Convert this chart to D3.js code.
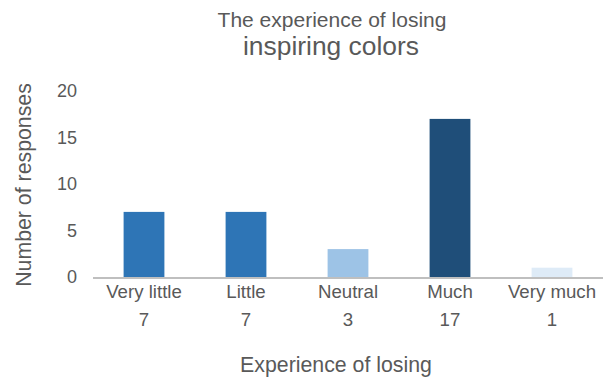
<!DOCTYPE html>
<html><head><meta charset="utf-8">
<script src="https://cdn.jsdelivr.net/npm/d3@7"></script>
<style>body{margin:0;background:#fff}svg{display:block;font-family:"Liberation Sans",Arial,sans-serif}</style>
</head><body><svg id="c" width="611" height="378"></svg>
<script>
const categories = ["Very little","Little","Neutral","Much","Very much"];
const values = [7,7,3,17,1];
const colors = ["#2e75b6","#2e75b6","#9dc3e6","#1f4e79","#deebf7"];
const yTicks = [0,5,10,15,20];
const titleLines = ["The experience of losing","inspiring colors"];

const svg = d3.select("#c");
const txt = "#595959";
const ff = "Liberation Sans, Arial, sans-serif";
const x = d3.scaleBand().domain(categories).range([93,603]).paddingInner(0.6).paddingOuter(0.3);
const y = d3.scaleLinear().domain([0,20]).range([277,91]);

svg.append("text").attr("x",332).attr("y",27).attr("text-anchor","middle").attr("font-size",21).attr("fill",txt).text(titleLines[0]);
svg.append("text").attr("x",331).attr("y",55).attr("text-anchor","middle").attr("font-size",26.4).attr("fill",txt).text(titleLines[1]);

svg.selectAll("rect.bar").data(values).enter().append("rect").attr("class","bar")
  .attr("x",(d,i)=>x(categories[i])).attr("width",x.bandwidth())
  .attr("y",d=>y(d)).attr("height",d=>y(0)-y(d)).attr("fill",(d,i)=>colors[i]);

const ya = svg.append("g").attr("transform","translate(77,0)").call(d3.axisLeft(y).tickValues(yTicks).tickSize(0).tickPadding(0));
ya.select(".domain").remove();
ya.selectAll("text").attr("font-size",18).attr("fill",txt).attr("font-family",ff).attr("dy","0.32em");

const xa = svg.append("g").attr("transform","translate(0,278)").call(d3.axisBottom(x).tickSize(0).tickPadding(0));
xa.select(".domain").attr("stroke","#bfbfbf").attr("stroke-width",2).attr("d","M93,0H603");
xa.selectAll("text").attr("font-size",18.67).attr("fill",txt).attr("font-family",ff).attr("dy",null).attr("y",19.5);

svg.selectAll("text.val").data(values).enter().append("text").attr("class","val")
  .attr("x",(d,i)=>x(categories[i])+x.bandwidth()/2).attr("y",326)
  .attr("text-anchor","middle").attr("font-size",18.67).attr("fill",txt).text(d=>d);

svg.append("text").attr("x",336).attr("y",372).attr("text-anchor","middle").attr("font-size",21.3).attr("fill",txt).text("Experience of losing");
svg.append("text").attr("transform","translate(31,185) rotate(-90)").attr("text-anchor","middle").attr("font-size",21.3).attr("fill",txt).text("Number of responses");
</script></body></html>
